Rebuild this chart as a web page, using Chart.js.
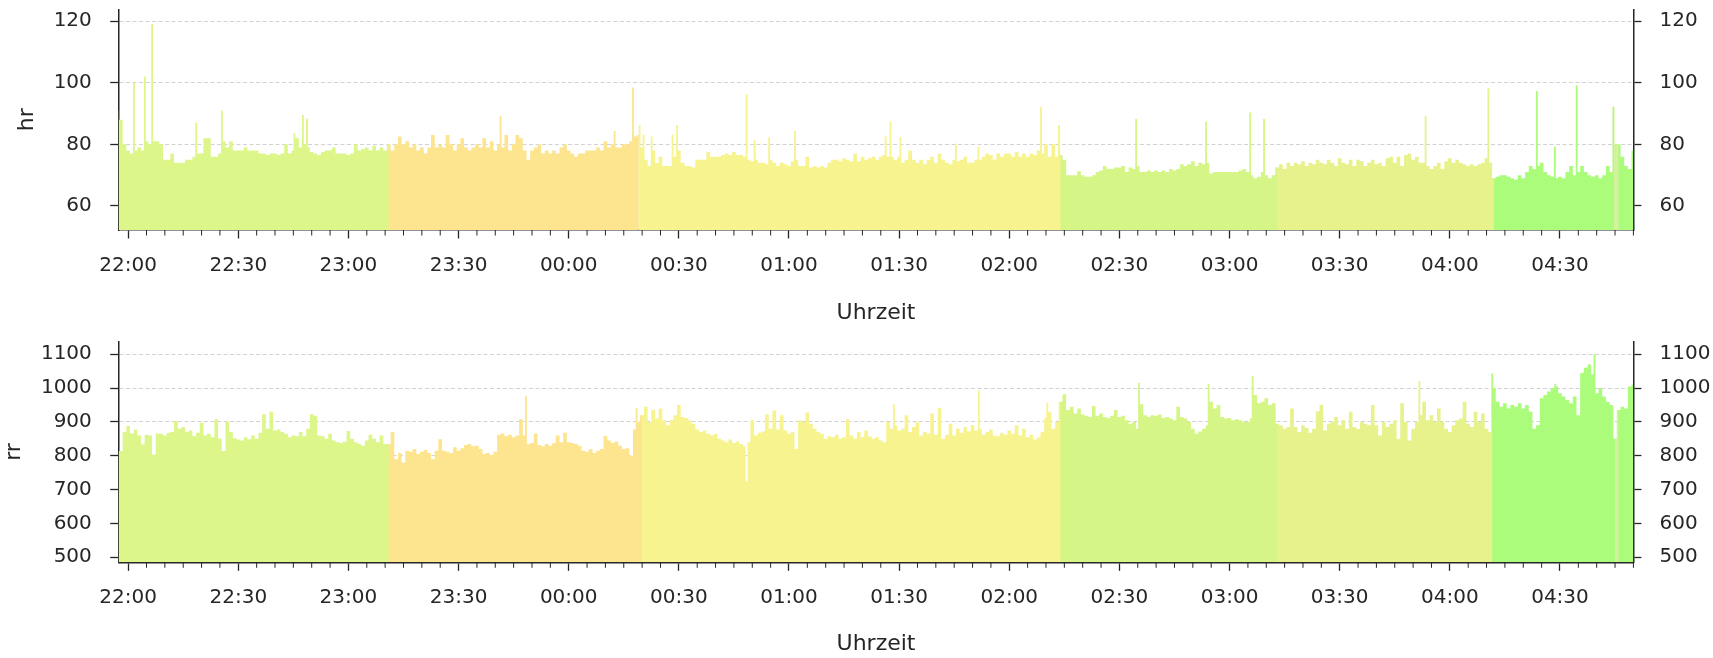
<!DOCTYPE html>
<html><head><meta charset="utf-8">
<script src="https://cdn.jsdelivr.net/npm/chart.js@4.4.1/dist/chart.umd.min.js"></script>
<style>
html,body{margin:0;padding:0;background:#fff;}
#wrap{position:relative;width:1713px;height:658px;}
.box{position:absolute;left:0;width:1713px;height:329px;}
</style></head><body>
<div id="wrap">
<div class="box" style="top:0"><canvas id="c1"></canvas></div>
<div class="box" style="top:329px"><canvas id="c2"></canvas></div>
</div>
<script>
// minutes relative to 22:00, one base value per minute starting here
const startMinute = -3;

const hrBase = [
91, 88, 80, 78, 77, 78, 79, 78, 81, 80,
81, 81, 80, 75, 75, 77, 74, 74, 74, 75,
75, 76, 77, 77, 82, 82, 76, 76, 77, 81,
79, 81, 78, 78, 78, 79, 78, 78, 78, 77,
77, 76.5, 77, 77, 76.5, 77, 80, 77, 78, 82,
79, 80, 79, 77.5, 77, 76.5, 77.5, 78, 78, 79,
77, 77, 77, 76.5, 77, 80, 78, 78.5, 79, 78,
79.5, 78, 79, 78, 80, 78, 80, 82.5, 80, 81,
79, 80, 78, 79, 77, 79, 83, 79, 80, 79,
83, 80, 78, 80, 82, 79, 78, 79, 80, 79,
82, 79, 81, 78, 80, 79, 83, 78, 80, 83,
82, 78, 75, 78, 79, 80, 77, 78, 77, 78,
77, 79, 80, 78, 77, 76, 77, 77, 78, 78,
78, 79, 78, 81, 79, 80, 79, 79, 80, 80,
81, 82.5, 83, 79, 75, 73, 78, 74, 76, 73,
73, 73, 76, 78, 74, 73, 73, 72.5, 75, 75,
75, 77.5, 76, 76, 76, 76.5, 77, 76.5, 77.5, 76.5,
76.5, 76, 75, 74.5, 75, 74, 74, 73.5, 75, 74,
73, 74, 73.5, 73, 74.5, 75, 73, 73, 76, 72.5,
73, 72.5, 73, 72.5, 74, 75, 75, 74.5, 75.5, 75,
74.5, 77, 74.5, 76, 75, 75.5, 76, 75, 76, 76.5,
76, 76, 75, 76, 74, 75, 78, 75, 74, 75,
73.5, 75, 76, 74, 77, 75, 74, 73.5, 75, 74.5,
75, 76, 74, 74, 75, 75, 76, 77, 76.5, 75,
77, 76, 77, 77, 76, 77.5, 76, 77, 76, 77,
76.5, 78, 77, 80, 76, 80, 76, 76.5, 75, 70,
70, 70, 71.3, 70, 69.5, 69.5, 70, 71, 71.5, 73,
72, 72, 72.5, 72.5, 73, 71, 72.5, 72, 73, 71,
71, 71.5, 71, 71.5, 71, 71.5, 71, 72, 71.5, 72,
73.5, 73, 73.5, 74.5, 73, 74, 73.5, 74, 70.5, 71,
71, 71, 71, 71, 71, 71, 71.5, 72, 71, 70,
69, 69.5, 71, 70, 69, 70, 72.5, 73.5, 72, 74,
73, 74, 73.5, 74.5, 73, 74, 73.5, 75, 74, 73.5,
75, 74, 73, 75.5, 74, 73.5, 75, 73, 75, 74.5,
73, 74, 75, 73.5, 74, 73, 75.5, 76, 74, 76,
73, 76.5, 77, 75, 76, 74, 74, 73, 72, 73,
74, 72, 74.5, 75.5, 74, 75, 74, 73.5, 73, 73.5,
73, 73.5, 74, 75.5, 74, 69, 69.5, 70, 70, 69.5,
69, 68.5, 70, 69, 71, 73, 72, 73, 74, 71,
70, 69.5, 69, 69.5, 69, 71, 73, 70, 71, 73,
71, 70, 69.5, 70, 69, 70, 73, 71, 80, 80,
76, 73, 72, 78
];

const hrSpikes = [
[1.67,100],[4.6,102],[6.57,119],[18.6,87],[25.6,91],[45.1,83.6],[47.7,89.5],[48.9,88.4],
[101.4,89.3],[132.5,84.3],[137.5,98.4],[139.1,86.3],[140.3,83.2],[142.7,82.5],[148.1,83.2],
[149.5,86.3],[168.4,96.2],[170.8,81.4],[174.7,82.3],[181.8,84.3],[206.2,82.5],[207.8,87.4],
[210.2,82.3],[225.4,80.3],[231.7,79.2],[248.8,92.2],[253.5,86.3],[274.6,88.2],[293.7,87.4],
[305.7,90.3],[309.3,88.2],[353.3,89.3],[370.5,98.2],[383.9,97.3],[388.7,79.2],[394.6,99.2],
[404.7,92.2]
];

const rrBase = [
814, 814, 870, 888, 866, 878, 860, 834, 862, 860,
804, 866, 865, 860, 868, 870, 903, 880, 885, 870,
875, 858, 868, 898, 860, 865, 855, 908, 850, 814,
901, 870, 852, 848, 845, 855, 849, 860, 850, 868,
923, 880, 930, 875, 878, 870, 865, 855, 860, 858,
870, 858, 880, 923, 918, 860, 858, 850, 865, 845,
840, 838, 842, 873, 850, 840, 835, 830, 845, 862,
850, 840, 860, 835, 834, 870, 790, 808, 780, 815,
812, 820, 805, 812, 818, 808, 790, 815, 849, 815,
812, 808, 825, 815, 822, 832, 835, 828, 830, 820,
805, 808, 802, 812, 862, 866, 858, 862, 855, 860,
908, 860, 834, 838, 866, 832, 828, 835, 830, 838,
860, 840, 868, 840, 838, 835, 830, 815, 812, 820,
808, 815, 820, 859, 845, 838, 842, 830, 820, 822,
800, 878, 900, 920, 945, 900, 935, 910, 940, 905,
890, 905, 920, 950, 915, 912, 905, 895, 878, 870,
875, 865, 860, 865, 850, 845, 840, 848, 838, 842,
835, 828, 840, 905, 860, 868, 872, 923, 880, 934,
878, 920, 875, 865, 870, 820, 905, 900, 928, 895,
880, 870, 865, 850, 858, 855, 862, 850, 855, 908,
860, 850, 870, 855, 875, 858, 850, 855, 845, 840,
900, 880, 890, 875, 880, 920, 870, 885, 900, 860,
870, 865, 925, 862, 942, 850, 862, 895, 860, 880,
868, 885, 872, 890, 875, 880, 862, 870, 878, 860,
858, 868, 862, 875, 865, 890, 860, 880, 855, 862,
848, 855, 870, 910, 930, 880, 900, 960, 982, 935,
945, 925, 940, 922, 918, 915, 947, 918, 925, 915,
912, 918, 935, 915, 918, 905, 895, 900, 880, 952,
920, 915, 920, 918, 922, 912, 915, 910, 905, 945,
915, 910, 900, 880, 865, 872, 880, 890, 960, 940,
950, 915, 910, 912, 905, 908, 905, 900, 900, 910,
980, 955, 960, 970, 950, 955, 895, 890, 880, 885,
940, 885, 870, 890, 882, 868, 880, 932, 950, 875,
895, 900, 915, 890, 905, 880, 930, 885, 880, 900,
895, 890, 950, 890, 860, 900, 885, 895, 905, 850,
955, 900, 845, 880, 900, 920, 960, 905, 920, 900,
940, 900, 880, 870, 890, 905, 910, 960, 895, 885,
930, 900, 925, 880, 870, 1000, 960, 945, 955, 940,
950, 945, 955, 940, 950, 930, 880, 890, 970, 980,
990, 1000, 1005, 985, 975, 965, 955, 975, 920, 1045,
1060, 1070, 1040, 985, 1000, 975, 960, 950, 850, 935,
945, 940, 1005, 1010
];

const rrSpikes = [
[108.2,977],[138.5,942],[168.4,725],[208.7,952],[231.9,994],[250.2,957],[275.2,1016],
[294.1,1013],[306.1,1036],[351.9,1021],[371.6,1043],[388.9,1013],[399.3,1100]
];

// sleep-stage segments (minutes relative to 22:00) and their colours
const stageBounds = [-3, 70.4, 139.1, 253.7, 312.6, 371.2, 404.4, 405.2, 411];
const stageColors = [
'#dcf68a', '#fde48f', '#f7f38f', '#d5f686', '#e8f28d', '#aafc7a', '#d2f39c', '#aafc7a'
];

const xTicks = [0,30,60,90,120,150,180,210,240,270,300,330,360,390];
const hrTicks = [60,80,100,120];
const rrTicks = [500,600,700,800,900,1000,1100];

const FONT = 'DejaVu Sans';
const TXT = '#262626';
Chart.defaults.font.family = FONT;

function clock(t){
  let m = ((22*60 + Math.round(t)) % 1440 + 1440) % 1440;
  return String(Math.floor(m/60)).padStart(2,'0') + ':' + String(m%60).padStart(2,'0');
}
function buildSeries(base, spikes){
  const pts = base.map((v,i)=>({x:startMinute+i, y:v}));
  spikes.forEach(([x,y])=>pts.push({x:x, y:y}));
  pts.sort((a,b)=>a.x-b.x);
  return pts;
}
function stageDatasets(pts){
  const ds = [];
  for (let s=0; s<stageColors.length; s++){
    const a = stageBounds[s], b = stageBounds[s+1];
    const seg = pts.filter(p=>p.x>=a && p.x<b);
    const next = pts.find(p=>p.x>=b);
    const prevs = pts.filter(p=>p.x<a);
    if (prevs.length) seg.unshift(prevs[prevs.length-1]);
    if (next) seg.push(next);
    ds.push({data:seg, backgroundColor:stageColors[s], borderWidth:0, pointRadius:0,
             fill:'start', stepped:'middle'});
  }
  return ds;
}

const minorTicks = {
  id:'minorTicks',
  afterDraw(chart){
    const s = chart.scales.x, ctx = chart.ctx;
    ctx.save();
    ctx.strokeStyle = TXT; ctx.lineWidth = 1;
    for (let t = Math.ceil(s.min/5)*5; t <= s.max + 0.001; t += 5){
      if (t % 30 === 0) continue;
      const px = s.getPixelForValue(t);
      ctx.beginPath(); ctx.moveTo(px, s.top); ctx.lineTo(px, s.top + 5.5); ctx.stroke();
    }
    ctx.restore();
  }
};

function makeChart(id, pts, cfg){
  return new Chart(document.getElementById(id), {
    type:'line',
    data:{datasets: stageDatasets(pts)},
    plugins:[minorTicks],
    options:{
      animation:false, responsive:true, maintainAspectRatio:false,
      layout:{padding:{top:cfg.padTop, left:0, right:0, bottom:0}},
      plugins:{legend:{display:false}, tooltip:{enabled:false}},
      scales:{
        x:{
          type:'linear', min:-2.6, max:410,
          afterBuildTicks: s => { s.ticks = xTicks.map(v=>({value:v})); },
          ticks:{callback:v=>clock(v), font:{size:20}, color:TXT, padding:cfg.xPad,
                 maxRotation:0, autoSkip:false},
          grid:{display:true, drawOnChartArea:false, drawTicks:true, tickLength:8.5,
                tickColor:TXT, tickWidth:1.3},
          border:{display:true, color:TXT, width:1.5},
          title:{display:true, text:'Uhrzeit', font:{size:22}, color:TXT,
                 padding:{top:0, bottom:cfg.xTitlePad}},
          afterFit: s => { s.height = cfg.xHeight; s.paddingLeft = 0; s.paddingRight = 0; }
        },
        y:{
          position:'left', min:cfg.min, max:cfg.max,
          afterBuildTicks: s => { s.ticks = cfg.ticks.map(v=>({value:v})); },
          ticks:{font:{size:20}, color:TXT, padding:18.4, callback:v=>String(v)},
          grid:{drawOnChartArea:true, color:'#d2d2d2', lineWidth:1, tickLength:8.4,
                tickColor:TXT, tickWidth:1.3, tickBorderDash:[]},
          border:{display:true, color:TXT, width:1.5, dash:[4,2.5]},
          title:{display:true, text:cfg.label, font:{size:22}, color:TXT,
                 padding:{top:cfg.yTitlePad, bottom:0}},
          afterFit: s => { s.width = 118.6; s.paddingTop = 0; s.paddingBottom = 0; }
        },
        y2:{
          position:'right', min:cfg.min, max:cfg.max,
          afterBuildTicks: s => { s.ticks = cfg.ticks.map(v=>({value:v})); },
          ticks:{font:{size:20}, color:TXT, padding:18.1, callback:v=>String(v)},
          grid:{drawOnChartArea:false, tickLength:8, tickColor:TXT, tickWidth:1.3},
          border:{display:true, color:TXT, width:1.5},
          afterFit: s => { s.width = 79.6; s.paddingTop = 0; s.paddingBottom = 0; }
        }
      }
    }
  });
}

makeChart('c1', buildSeries(hrBase, hrSpikes), {
  padTop:9.3, xHeight:99, xPad:15, xTitlePad:2.1, min:52.2, max:123.8,
  ticks:hrTicks, label:'hr', yTitlePad:14.2
});
makeChart('c2', buildSeries(rrBase, rrSpikes), {
  padTop:12.7, xHeight:95.7, xPad:14.5, xTitlePad:0.5, min:485.2, max:1137.2,
  ticks:rrTicks, label:'rr', yTitlePad:1.4
});
</script>
</body></html>
